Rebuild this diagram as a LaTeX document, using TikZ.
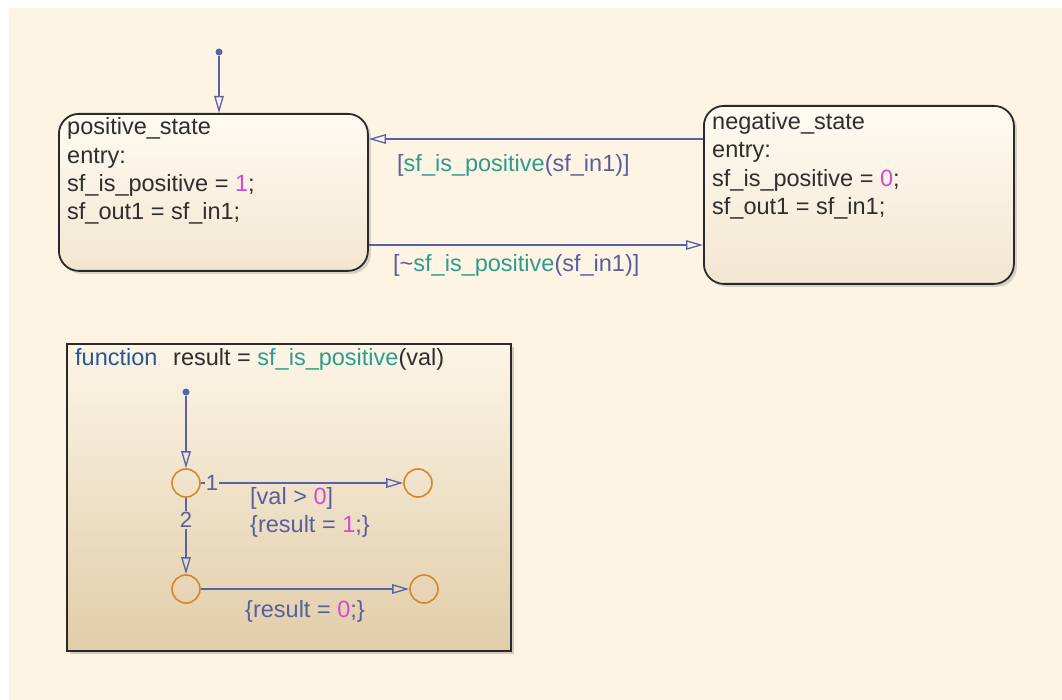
\documentclass[tikz,border=0pt]{standalone}
\usepackage{fontspec}
\setmainfont{Liberation Sans}
\usetikzlibrary{arrows.meta,shadows}
\definecolor{bg}{HTML}{FEF4E3}
\definecolor{txt}{HTML}{2E2E2E}
\definecolor{num}{HTML}{D34BD0}
\definecolor{fnteal}{HTML}{2F9C8F}
\definecolor{lab}{HTML}{5A5E9E}
\definecolor{kw}{HTML}{2B5594}
\definecolor{conn}{HTML}{5662A9}
\definecolor{junc}{HTML}{D4872C}
\definecolor{stTop}{HTML}{FFFBF3}
\definecolor{stBot}{HTML}{F2E6D0}
\definecolor{fbTop}{HTML}{FCF5E6}
\definecolor{fbBot}{HTML}{E1CDA9}
\definecolor{edge}{HTML}{2A2A2A}
\tikzset{
  stbox/.style={draw=edge, line width=1.8pt, rounded corners=20pt, top color=stTop, bottom color=stBot,
    drop shadow={shadow xshift=3pt, shadow yshift=-3pt, opacity=0.3}, inner sep=0pt, anchor=north west},
  fnbox/.style={draw=edge, line width=1.8pt, top color=fbTop, bottom color=fbBot,
    drop shadow={shadow xshift=3pt, shadow yshift=-3pt, opacity=0.35}, inner sep=0pt, anchor=north west},
  tx/.style={anchor=base west, inner sep=0pt, text=txt, font=\fontsize{23.5}{28}\selectfont},
  lbl/.style={tx, text=lab},
  trans/.style={draw=conn, line width=1.5pt, -{Triangle[open, length=17pt, width=9.5pt, line width=1.3pt]}},
  dotnode/.style={circle, fill=conn, minimum size=7pt, inner sep=0pt},
  jn/.style={circle, draw=junc, line width=1.6pt, minimum size=28pt, inner sep=0pt},
  jlab/.style={inner sep=1pt, text=lab, font=\fontsize{22}{26}\selectfont},
}
\begin{document}
\begin{tikzpicture}[x=1pt, y=-1pt]
\useasboundingbox (0,0) rectangle (1062,700);
\fill[white] (0,0) rectangle (1062,700);
\fill[bg] (9,8) rectangle (1062,700);

% states
\node[stbox, minimum width=309pt, minimum height=157pt] (pos) at (58,113) {};
\node[stbox, minimum width=310pt, minimum height=178pt] (neg) at (703,105) {};

\node[tx] (p1) at (67,135) {positive\_state};
\node[tx] (p2) at (67,164) {entry:};
\node[tx] (p3) at (67,192) {sf\_is\_positive = \textcolor{num}{1};};
\node[tx] (p4) at (67,220) {sf\_out1 = sf\_in1;};

\node[tx] (n1) at (712,130) {negative\_state};
\node[tx] (n2) at (712,158) {entry:};
\node[tx] (n3) at (712,187) {sf\_is\_positive = \textcolor{num}{0};};
\node[tx] (n4) at (712,215) {sf\_out1 = sf\_in1;};

% default transition
\node[dotnode] (d0) at (219,52) {};
\draw[trans] (d0) -- (pos.north -| d0);

% transitions between states
\draw[trans] (neg.west |- 0,139) -- (pos.east |- 0,139);
\draw[trans] (pos.east |- 0,245) -- (neg.west |- 0,245);
\node[lbl] (l1) at (397,172) {[\textcolor{fnteal}{sf\_is\_positive}(sf\_in1)]};
\node[lbl] (l2) at (393,272) {[\textasciitilde\textcolor{fnteal}{sf\_is\_positive}(sf\_in1)]};

% graphical function
\node[fnbox, minimum width=444pt, minimum height=307pt] (fn) at (66,343) {};
\node[tx, text=kw] (ft1) at (75,365) {function};
\node[tx] (ft2) at (173,365) {result = \textcolor{fnteal}{sf\_is\_positive}(val)};

\node[dotnode] (d1) at (186,392) {};
\node[jn] (j1) at (186,483) {};
\node[jn] (j2) at (418,483) {};
\node[jn] (j3) at (186,589) {};
\node[jn] (j4) at (424,589) {};

\draw[trans] (d1) -- (j1);
\draw[trans] (j1) -- node[jlab, fill=fbBot!46!fbTop, pos=0.055] {1} (j2);
\draw[trans] (j1) -- node[jlab, fill=fbBot!58!fbTop, pos=0.29] {2} (j3);
\draw[trans] (j3) -- (j4);

\node[lbl] (g1) at (250,504) {[val > \textcolor{num}{0}]};
\node[lbl] (g2) at (250,532) {\{result = \textcolor{num}{1};\}};
\node[lbl] (g3) at (245,617) {\{result = \textcolor{num}{0};\}};
\end{tikzpicture}
\end{document}
